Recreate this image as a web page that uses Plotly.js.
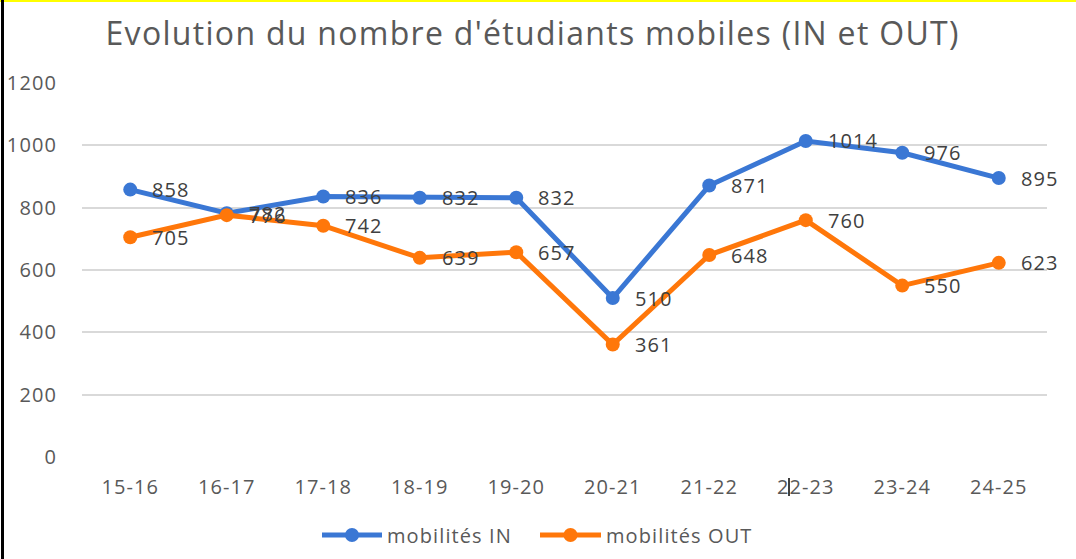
<!DOCTYPE html>
<html>
<head>
<meta charset="utf-8">
<script src="https://cdn.plot.ly/plotly-3.0.1.min.js"></script>
<style>
  html, body { margin: 0; padding: 0; background: #fff; }
  #wrap { position: relative; width: 1076px; height: 559px; overflow: hidden; }
  #chart { position: absolute; left: 0; top: 0; width: 1076px; height: 559px; }
  #topline { position: absolute; left: 0; top: 0; width: 1076px; height: 2px; background: #ffff00; }
  #leftline { position: absolute; left: 1px; top: 0; width: 3px; height: 559px; background: #000; }
  svg text { letter-spacing: 1.1px; }
  svg text.gtitle { letter-spacing: 1.3px; }
</style>
</head>
<body>
<div id="wrap">
  <div id="chart"></div>
  <div id="topline"></div>
  <div id="leftline"></div>
</div>
<script>
const categories = ["15-16", "16-17", "17-18", "18-19", "19-20", "20-21", "21-22", "22-23", "23-24", "24-25"];
const mobilitesIN  = [858, 782, 836, 832, 832, 510, 871, 1014, 976, 895];
const mobilitesOUT = [705, 776, 742, 639, 657, 361, 648, 760, 550, 623];
const seriesNames = ["mobilités IN", "mobilités OUT"];
const yTicks = [0, 200, 400, 600, 800, 1000, 1200];

const blue = "#3a77d4";
const orange = "#ff770a";
const colors = [blue, orange];
const font = "Open Sans, sans-serif";

// plot area in pixels (for converting legend positions to paper coords)
const PL = 82, PR = 1047, PT = 83, PB = 457;
const px2x = p => (p - PL) / (PR - PL);
const px2y = p => (PB - p) / (PB - PT);

function mkTrace(name, ys, color) {
  return {
    type: "scatter", mode: "lines+markers", name: name,
    x: categories, y: ys,
    line: { color: color, width: 5 },
    marker: { color: color, size: 14 },
    cliponaxis: false, showlegend: false
  };
}

const annotations = [];
[mobilitesIN, mobilitesOUT].forEach(function (ys) {
  ys.forEach(function (v, i) {
    annotations.push({
      x: categories[i], y: v, xref: "x", yref: "y",
      text: String(v), showarrow: false,
      xanchor: "left", yanchor: "middle", xshift: 20,
      font: { family: font, size: 20, color: "#404040" }
    });
  });
});

// custom legend (line + marker key, label)
const legendKeys = [{ x0: 322, x1: 382, tx: 385 }, { x0: 540, x1: 601, tx: 604 }];
const legendY = 535;
const shapes = [];
legendKeys.forEach(function (k, i) {
  shapes.push({ type: "line", xref: "paper", yref: "paper",
    x0: px2x(k.x0), x1: px2x(k.x1), y0: px2y(legendY), y1: px2y(legendY),
    line: { color: colors[i], width: 5 } });
  const cx = (k.x0 + k.x1) / 2;
  shapes.push({ type: "circle", xref: "paper", yref: "paper",
    x0: px2x(cx - 7), x1: px2x(cx + 7), y0: px2y(legendY + 7), y1: px2y(legendY - 7),
    fillcolor: colors[i], line: { color: colors[i], width: 0 } });
  annotations.push({ xref: "paper", yref: "paper", x: px2x(k.tx), y: px2y(legendY),
    xanchor: "left", yanchor: "middle", showarrow: false, text: seriesNames[i],
    font: { family: font, size: 20, color: "#595959" } });
});
// stray text cursor seen in the original image near "22-23"
shapes.push({ type: "line", xref: "paper", yref: "paper",
  x0: px2x(789), x1: px2x(789), y0: px2y(478), y1: px2y(496),
  line: { color: "#000000", width: 1.5 } });

const layout = {
  width: 1076, height: 559,
  margin: { l: PL, r: 1076 - PR, t: PT, b: 559 - PB },
  paper_bgcolor: "#ffffff", plot_bgcolor: "#ffffff",
  title: {
    text: "Evolution du nombre d'étudiants mobiles (IN et OUT)",
    font: { family: font, size: 32, color: "#595959" },
    x: 0.495, xanchor: "center", y: 0.94, yanchor: "middle"
  },
  xaxis: {
    type: "category",
    showgrid: false, zeroline: false, showline: false,
    ticks: "", ticklabelstandoff: 16,
    tickfont: { family: font, size: 20, color: "#595959" },
    range: [-0.5, categories.length - 0.5]
  },
  yaxis: {
    range: [0, 1200], tickvals: yTicks, ticktext: yTicks.map(String),
    showgrid: true, gridcolor: "#d9d9d9", gridwidth: 2,
    zeroline: false, showline: false, ticks: "",
    ticklabelstandoff: 24,
    tickfont: { family: font, size: 20, color: "#595959" }
  },
  showlegend: false,
  annotations: annotations,
  shapes: shapes
};

Plotly.newPlot("chart", [mkTrace(seriesNames[0], mobilitesIN, blue), mkTrace(seriesNames[1], mobilitesOUT, orange)], layout, { displayModeBar: false, staticPlot: true });
</script>
</body>
</html>
